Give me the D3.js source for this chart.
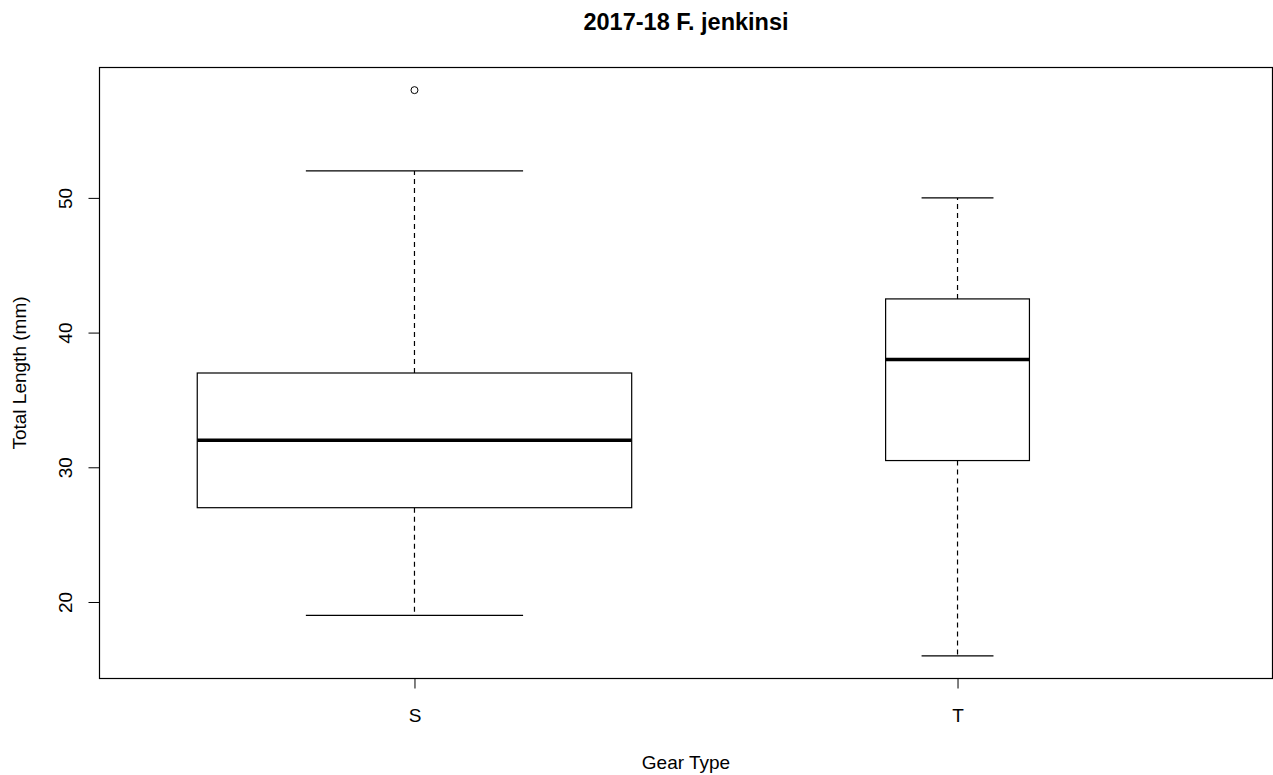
<!DOCTYPE html>
<html><head><meta charset="utf-8">
<script src="https://cdn.jsdelivr.net/npm/d3@7"></script>
<style>body{margin:0;background:#fff}text{font-family:"Liberation Sans",Arial,sans-serif;fill:#000}</style>
</head><body><svg id="c" width="1273" height="775"></svg>
<script>
const categories = ["S", "T"];
const counts = [73, 8];            // estimated group sizes (box width ~ sqrt(n))
const whiskerLow = [19, 16];
const q1 = [27, 30.5];
const median = [32, 38];
const q3 = [37, 42.5];
const whiskerHigh = [52, 50];
const outliers = [[58], []];
const yTicks = [20, 30, 40, 50];
const title = "2017-18 F. jenkinsi";
const xTitle = "Gear Type";
const yTitle = "Total Length (mm)";

const svg = d3.select("#c");
const L = 99.5, R = 1272.5, T = 67.5, B = 678.5;
const allVals = [...whiskerLow, ...whiskerHigh, ...outliers.flat()];
const lo = d3.min(allVals), hi = d3.max(allVals), pad = (hi - lo) * 0.04;
const y = d3.scaleLinear().domain([lo - pad, hi + pad]).range([B, T]);
const xr = [0.5, categories.length + 0.5], xp = (xr[1] - xr[0]) * 0.04;
const x = d3.scaleLinear().domain([xr[0] - xp, xr[1] + xp]).range([L, R]);
const maxN = d3.max(counts);

svg.append("rect").attr("x", L).attr("y", T).attr("width", R - L).attr("height", B - T)
  .attr("fill", "none").attr("stroke", "#000").attr("stroke-width", 1.2);

// y axis
const ya = svg.append("g").attr("transform", `translate(${L},0)`)
  .call(d3.axisLeft(y).tickValues(yTicks).tickSize(11).tickPadding(0).tickFormat(d3.format("d")));
ya.select(".domain").remove();
ya.selectAll("line").attr("stroke", "#000");
ya.selectAll("text").remove();
ya.selectAll(".tick").append("text").attr("transform", "translate(-34,0) rotate(-90)")
  .attr("text-anchor", "middle").attr("dy", "0.35em").style("font-size", "19px").text(d => d);

// x axis
const xa = svg.append("g").attr("transform", `translate(0,${B})`)
  .call(d3.axisBottom(x).tickValues(categories.map((c, i) => i + 1)).tickSize(10).tickPadding(20)
    .tickFormat((d) => categories[d - 1]));
xa.select(".domain").remove();
xa.selectAll("line").attr("stroke", "#000");
xa.selectAll("text").style("font-size", "19px").attr("fill", "#000");

categories.forEach((c, i) => {
  const bw = 0.8 * Math.sqrt(counts[i] / maxN), cw = bw / 2;
  const cx = x(i + 1);
  const g = svg.append("g");
  const hx0 = x(i + 1 - bw / 2), hx1 = x(i + 1 + bw / 2);
  const cx0 = x(i + 1 - cw / 2), cx1 = x(i + 1 + cw / 2);
  g.append("line").attr("x1", cx).attr("x2", cx).attr("y1", y(q3[i])).attr("y2", y(whiskerHigh[i]))
    .attr("stroke", "#000").attr("stroke-width", 1.2).attr("stroke-dasharray", "5,4");
  g.append("line").attr("x1", cx).attr("x2", cx).attr("y1", y(q1[i])).attr("y2", y(whiskerLow[i]))
    .attr("stroke", "#000").attr("stroke-width", 1.2).attr("stroke-dasharray", "5,4");
  [whiskerHigh[i], whiskerLow[i]].forEach(v => {
    g.append("line").attr("x1", cx0).attr("x2", cx1).attr("y1", y(v)).attr("y2", y(v))
      .attr("stroke", "#000").attr("stroke-width", 1.2);
  });
  g.append("rect").attr("x", hx0).attr("width", hx1 - hx0).attr("y", y(q3[i])).attr("height", y(q1[i]) - y(q3[i]))
    .attr("fill", "#fff").attr("stroke", "#000").attr("stroke-width", 1.2);
  g.append("line").attr("x1", hx0).attr("x2", hx1).attr("y1", y(median[i])).attr("y2", y(median[i]))
    .attr("stroke", "#000").attr("stroke-width", 3.5);
  outliers[i].forEach(v => {
    g.append("circle").attr("cx", cx).attr("cy", y(v)).attr("r", 3.5)
      .attr("fill", "none").attr("stroke", "#000").attr("stroke-width", 1);
  });
});

svg.append("text").attr("x", (L + R) / 2).attr("y", 30).attr("text-anchor", "middle")
  .style("font-size", "23.5px").style("font-weight", "bold").text(title);
svg.append("text").attr("x", (L + R) / 2).attr("y", 769).attr("text-anchor", "middle")
  .style("font-size", "19px").text(xTitle);
svg.append("text").attr("transform", `translate(26,${(T + B) / 2}) rotate(-90)`).attr("text-anchor", "middle")
  .style("font-size", "19px").text(yTitle);
</script></body></html>
